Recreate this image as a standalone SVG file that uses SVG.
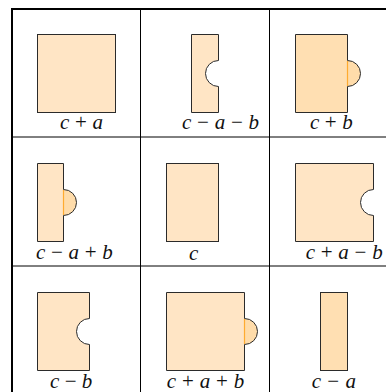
<svg xmlns="http://www.w3.org/2000/svg" width="386" height="392" viewBox="0 0 386 392">
<style>
.grid{stroke:#000;fill:none}
.body{fill:#ffe5c5;stroke:none}
.body2{fill:#ffdfb2;stroke:none}
.bump{fill:#ffdcaa;stroke:none}
.seam{stroke:#ffab30;stroke-width:1.2;fill:none}
.out{fill:none;stroke:#2b2b2b;stroke-width:1}
.lbl{font-family:"Liberation Serif","DejaVu Serif",serif;font-size:21px;fill:#111}
.v{font-style:italic}
</style>
<rect width="386" height="392" fill="#fff"/>
<g id="grid">
<line class="grid" x1="11" y1="9" x2="386" y2="9" stroke-width="2"/>
<line class="grid" x1="12" y1="8" x2="12" y2="392" stroke-width="2"/>
<line class="grid" x1="140.5" y1="9" x2="140.5" y2="392"/>
<line class="grid" x1="269.5" y1="9" x2="269.5" y2="392"/>
<line class="grid" x1="12" y1="137" x2="386" y2="137" stroke="#333"/>
<line class="grid" x1="12" y1="266" x2="386" y2="266" stroke="#333"/>
</g>
<g id="n1">
<rect class="body" x="37.5" y="34.5" width="78" height="78"/>
<rect class="out" x="37.5" y="34.5" width="78" height="78"/>
<text class="lbl" x="60" y="129" textLength="43" lengthAdjust="spacing"><tspan class="v">c</tspan> + <tspan class="v">a</tspan></text>
</g>
<g id="n2">
<path class="body" d="M191.5,34.5H218.5V60.5A13,13 0 0 0 218.5,86.5V112.5H191.5Z"/>
<path class="out" d="M191.5,34.5H218.5V60.5A13,13 0 0 0 218.5,86.5V112.5H191.5Z"/>
<text class="lbl" x="182" y="129" textLength="77" lengthAdjust="spacing"><tspan class="v">c</tspan> − <tspan class="v">a</tspan> − <tspan class="v">b</tspan></text>
</g>
<g id="n3">
<rect class="body2" x="295.5" y="34.5" width="52" height="78"/>
<path class="bump" d="M347.5,60.5A13,13 0 0 1 347.5,86.5Z"/>
<line class="seam" x1="347.5" y1="61" x2="347.5" y2="86"/>
<path class="out" d="M347.5,60.5V34.5H295.5V112.5H347.5V86.5A13,13 0 0 0 347.5,60.5"/>
<text class="lbl" x="310" y="129" textLength="42.7" lengthAdjust="spacing"><tspan class="v">c</tspan> + <tspan class="v">b</tspan></text>
</g>
<g id="n4">
<rect class="body" x="37.5" y="163.5" width="26" height="78"/>
<path class="bump" d="M63.5,189.5A13,13 0 0 1 63.5,215.5Z"/>
<line class="seam" x1="63.5" y1="190" x2="63.5" y2="215"/>
<path class="out" d="M63.5,189.5V163.5H37.5V241.5H63.5V215.5A13,13 0 0 0 63.5,189.5"/>
<text class="lbl" x="36" y="259" textLength="76.7" lengthAdjust="spacing"><tspan class="v">c</tspan> − <tspan class="v">a</tspan> + <tspan class="v">b</tspan></text>
</g>
<g id="n5">
<rect class="body" x="166.5" y="163.5" width="52" height="78"/>
<rect class="out" x="166.5" y="163.5" width="52" height="78"/>
<text class="lbl" x="189" y="259.5"><tspan class="v">c</tspan></text>
</g>
<g id="n6">
<path class="body" d="M295.5,163.5H373.5V189.5A13,13 0 0 0 373.5,215.5V241.5H295.5Z"/>
<path class="out" d="M295.5,163.5H373.5V189.5A13,13 0 0 0 373.5,215.5V241.5H295.5Z"/>
<text class="lbl" x="305.7" y="259" textLength="77" lengthAdjust="spacing"><tspan class="v">c</tspan> + <tspan class="v">a</tspan> − <tspan class="v">b</tspan></text>
</g>
<g id="n7">
<path class="body" d="M37.5,292.5H89.5V318.5A13,13 0 0 0 89.5,344.5V370.5H37.5Z"/>
<path class="out" d="M37.5,292.5H89.5V318.5A13,13 0 0 0 89.5,344.5V370.5H37.5Z"/>
<text class="lbl" x="50" y="388" textLength="42.3" lengthAdjust="spacing"><tspan class="v">c</tspan> − <tspan class="v">b</tspan></text>
</g>
<g id="n8">
<rect class="body" x="166.5" y="292.5" width="78" height="78"/>
<path class="bump" d="M244.5,318.5A13,13 0 0 1 244.5,344.5Z"/>
<line class="seam" x1="244.5" y1="319" x2="244.5" y2="344"/>
<path class="out" d="M244.5,318.5V292.5H166.5V370.5H244.5V344.5A13,13 0 0 0 244.5,318.5"/>
<text class="lbl" x="166.7" y="388" textLength="77.6" lengthAdjust="spacing"><tspan class="v">c</tspan> + <tspan class="v">a</tspan> + <tspan class="v">b</tspan></text>
</g>
<g id="n9">
<rect class="body2" x="320.5" y="292.5" width="27" height="78"/>
<rect class="out" x="320.5" y="292.5" width="27" height="78"/>
<text class="lbl" x="311.7" y="388" textLength="44.3" lengthAdjust="spacing"><tspan class="v">c</tspan> − <tspan class="v">a</tspan></text>
</g>
</svg>
